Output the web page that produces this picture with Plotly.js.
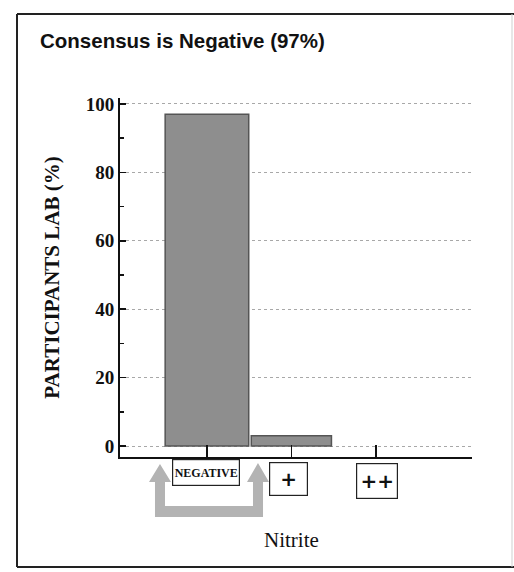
<!DOCTYPE html>
<html>
<head>
<meta charset="utf-8">
<script src="https://cdn.plot.ly/plotly-3.0.1.min.js"></script>
<style>html,body{margin:0;padding:0;background:#fff;}#chart{width:514px;height:572px;}</style>
</head>
<body>
<div id="chart"></div>
<script>
// ---- data ----
const categories = ["NEGATIVE", "+", "++"];
const participantsPct = [97, 3, 0];
const yTickVals = [0, 20, 40, 60, 80, 100];
const yTickText = ["0", "20", "40", "60", "80", "100"];
const chartTitle = "Consensus is Negative (97%)";
const yTitle = "PARTICIPANTS LAB (%)";
const xTitle = "Nitrite";

// ---- layout helpers (pixel -> paper) ----
const W = 514, H = 572;
const M = {l: 120, r: 42, t: 98, b: 115};
const PW = W - M.l - M.r, PH = H - M.t - M.b;
const px = x => (x - M.l) / PW;
const py = y => (H - M.b - y) / PH;

const catIdx = categories.map((c, i) => i);

const trace = {
  type: "bar",
  x: catIdx,
  y: participantsPct,
  width: [0.99, 0.95, 0.95],
  marker: {color: "#8e8e8e", line: {color: "#555555", width: [1.5, 1.5, 0]}},
  hoverinfo: "skip",
  showlegend: false
};

// boxed category labels
const labelStyle = [
  {family: "Liberation Serif", size: 12, x: 206, y: 472.5, w: 64, h: 23},
  {family: "DejaVu Sans", size: 20, x: 289, y: 479, w: 35, h: 30},
  {family: "DejaVu Sans", size: 20, x: 377, y: 481, w: 38, h: 32}
];
const annotations = categories.map((c, i) => ({
  x: i, xref: "x", xshift: labelStyle[i].x - (207 + i * 84.5),
  y: py(labelStyle[i].y), yref: "paper",
  text: "<b>" + c + "</b>", showarrow: false,
  xanchor: "center", yanchor: "middle",
  width: labelStyle[i].w, height: labelStyle[i].h,
  bordercolor: "#222", borderwidth: 1.2, borderpad: 1, bgcolor: "#fff",
  font: {family: labelStyle[i].family, size: labelStyle[i].size, color: "#111"}
}));
annotations.push({
  text: xTitle, showarrow: false, xref: "paper", yref: "paper",
  x: px(291), y: py(540), xanchor: "center", yanchor: "middle",
  font: {family: "Liberation Serif", size: 21, color: "#111"}
});

// arrows path (grey U with two heads)
const pts = [[155,482],[149,482],[160,464],[171,482],[165,482],[165,506],[253,506],[253,482],[247,482],[258,463],[269,482],[263,482],[263,517],[155,517]];
const arrowPath = "M " + pts.map(p => px(p[0]).toFixed(4) + "," + py(p[1]).toFixed(4)).join(" L ") + " Z";

const frameLine = (x0, y0, x1, y1, c, w) => ({type: "line", xref: "paper", yref: "paper",
  x0: px(x0), y0: py(y0), x1: px(x1), y1: py(y1), line: {color: c, width: w}});

const shapes = [
  frameLine(17, 14, 514, 14, "#222", 2),
  frameLine(17, 14, 17, 567, "#222", 2),
  frameLine(17, 567, 514, 567, "#222", 2),
  frameLine(512, 14, 512, 567, "#cfcfcf", 1),
  {type: "path", xref: "paper", yref: "paper", path: arrowPath,
   fillcolor: "#b3b3b3", line: {width: 0}}
];

const layout = {
  width: W, height: H,
  margin: M,
  paper_bgcolor: "#fff", plot_bgcolor: "#fff",
  title: {text: "<b>" + chartTitle + "</b>", xref: "container", yref: "container",
          x: 40 / W, xanchor: "left", y: 1 - 41 / H, yanchor: "middle",
          font: {family: "Liberation Sans", size: 20.5, color: "#111"}},
  bargap: 0,
  xaxis: {
    type: "linear", range: [-1.03, 3.14], tickvals: catIdx, ticktext: categories,
    showticklabels: false, ticks: "inside", ticklen: 12, tickwidth: 1.5, tickcolor: "#111",
    showline: true, linecolor: "#111", linewidth: 2, showgrid: false, zeroline: false,
    fixedrange: true
  },
  yaxis: {
    range: [-3.2, 101.75], tickvals: yTickVals, ticktext: yTickText,
    ticks: "inside", ticklen: 6, tickwidth: 1.5, tickcolor: "#111",
    minor: {dtick: 10, tick0: 0, ticks: "inside", ticklen: 4, tickcolor: "#111", showgrid: false},
    showline: true, linecolor: "#111", linewidth: 2,
    showgrid: true, gridcolor: "#a8a8a8", griddash: "dot", gridwidth: 1,
    zeroline: false,
    tickfont: {family: "Liberation Serif", size: 19, color: "#111", weight: "bold"},
    title: {text: yTitle, standoff: 20,
            font: {family: "Liberation Serif", size: 21, color: "#111", weight: "bold"}},
    automargin: false, fixedrange: true
  },
  annotations: annotations,
  shapes: shapes
};

Plotly.newPlot("chart", [trace], layout, {displayModeBar: false, staticPlot: true});
</script>
</body>
</html>
